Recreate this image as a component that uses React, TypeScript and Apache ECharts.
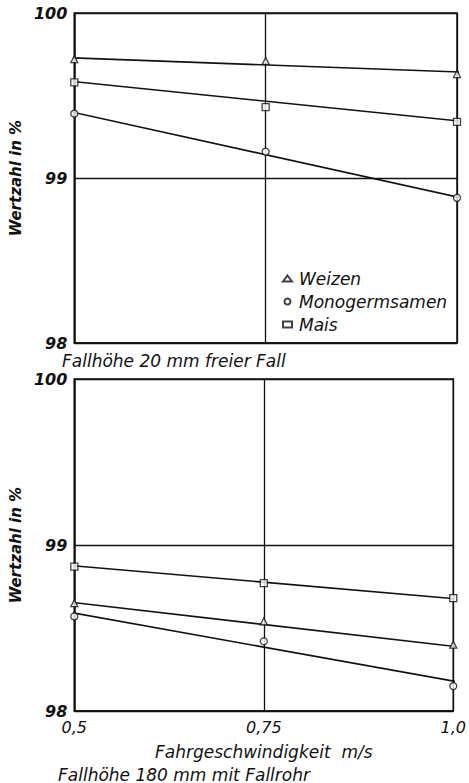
import React, { useEffect, useRef } from "react";
import * as echarts from "echarts";

// speeds (m/s)
const speeds = [0.5, 0.75, 1.0];
// Top panel: Fallhöhe 20 mm freier Fall
const topWeizen = [99.72, 99.71, 99.63];
const topMono = [99.39, 99.16, 98.88];
const topMais = [99.58, 99.43, 99.34];
// Regression lines (start x, start y, end x, end y)
const topWeizenLine = [[0.487, 99.73], [1.015, 99.64]];
const topMonoLine = [[0.487, 99.41], [1.015, 98.87]];
const topMaisLine = [[0.487, 99.59], [1.015, 99.34]];
// Bottom panel: Fallhöhe 180 mm mit Fallrohr
const botWeizen = [98.65, 98.54, 98.4];
const botMono = [98.57, 98.42, 98.15];
const botMais = [98.87, 98.77, 98.68];
const botWeizenLine = [[0.486, 98.66], [1.018, 98.38]];
const botMonoLine = [[0.487, 98.6], [1.013, 98.17]];
const botMaisLine = [[0.486, 98.88], [1.018, 98.67]];

const seriesNames = ["Weizen", "Monogermsamen", "Mais"];
const yTicks = [98, 99, 100];

const FONT = "DejaVu Sans";

function pts(vals: number[]) {
  return vals.map((v, i) => [speeds[i], v]);
}

export default function App() {
  const ref = useRef<HTMLDivElement>(null);
  useEffect(() => {
    if (!ref.current) return;
    const chart = echarts.init(ref.current, undefined, { renderer: "svg" });
    const fmtX = (v: number) => (v === 1 ? "1,0" : String(v).replace(".", ","));
    const yAxisBase = (gi: number) => ({
      type: "value" as const,
      gridIndex: gi,
      min: yTicks[0],
      max: yTicks[yTicks.length - 1],
      interval: 1,
      name: "Wertzahl in %",
      nameLocation: "middle" as const,
      nameRotate: 90,
      nameGap: 38,
      nameTextStyle: { fontFamily: FONT, fontStyle: "italic", fontWeight: "bold", fontSize: 15, color: "#111" },
      axisLine: { show: true, lineStyle: { color: "#111", width: 1.5 } },
      axisTick: { show: false },
      axisLabel: { fontFamily: FONT, fontStyle: "italic", fontWeight: "bold", fontSize: 16, color: "#111", margin: 7 },
      splitLine: { show: true, lineStyle: { color: "#111", width: 1.3 } },
    });
    const xAxisBase = (gi: number, showLabel: boolean) => ({
      type: "value" as const,
      gridIndex: gi,
      min: 0.5,
      max: 1.0,
      interval: 0.25,
      axisLine: { show: true, lineStyle: { color: "#111", width: 1.5 } },
      axisTick: { show: false },
      axisLabel: {
        show: showLabel,
        formatter: fmtX,
        fontFamily: FONT,
        fontStyle: "italic",
        fontSize: 16,
        color: "#111",
        margin: 8,
      },
      splitLine: { show: true, lineStyle: { color: "#111", width: 1.3 } },
    });
    const symbols = ["triangle", "circle", "rect"];
    const scatter = (name: string, data: number[][], gi: number, k: number) => ({
      type: "scatter" as const,
      name,
      xAxisIndex: gi,
      yAxisIndex: gi,
      data,
      symbol: symbols[k],
      symbolSize: 7,
      itemStyle: { color: "#fff", borderColor: "#111", borderWidth: 1.3 },
      z: 5,
    });
    const line = (data: number[][], gi: number) => ({
      type: "line" as const,
      xAxisIndex: gi,
      yAxisIndex: gi,
      data,
      showSymbol: false,
      symbol: "none",
      clip: false,
      lineStyle: { color: "#111", width: 1.6 },
      z: 4,
    });
    const txt = { fontFamily: FONT, fontStyle: "italic", fontSize: 17, fill: "#111" };
    chart.setOption({
      animation: false,
      backgroundColor: "#fff",
      grid: [
        { left: 62, top: 13, width: 395, height: 330, show: true, borderColor: "#111", borderWidth: 1.5 },
        { left: 59, top: 379, width: 396, height: 332, show: true, borderColor: "#111", borderWidth: 1.5 },
      ],
      xAxis: [xAxisBase(0, false), xAxisBase(1, true)],
      yAxis: [yAxisBase(0), yAxisBase(1)],
      legend: {
        data: seriesNames,
        orient: "vertical",
        left: 277,
        top: 265,
        itemWidth: 9,
        itemHeight: 6,
        itemGap: 6,
        textStyle: { fontFamily: FONT, fontStyle: "italic", fontSize: 17, color: "#111", padding: [0, 0, 0, 2], lineHeight: 17 },
      },
      series: [
        scatter(seriesNames[0], pts(topWeizen), 0, 0),
        scatter(seriesNames[1], pts(topMono), 0, 1),
        scatter(seriesNames[2], pts(topMais), 0, 2),
        line(topWeizenLine, 0),
        line(topMonoLine, 0),
        line(topMaisLine, 0),
        scatter(seriesNames[0], pts(botWeizen), 1, 0),
        scatter(seriesNames[1], pts(botMono), 1, 1),
        scatter(seriesNames[2], pts(botMais), 1, 2),
        line(botWeizenLine, 1),
        line(botMonoLine, 1),
        line(botMaisLine, 1),
      ],
      graphic: [
        { type: "text", left: 62, top: 352, style: { ...txt, text: "Fallhöhe 20 mm freier Fall" } },
        { type: "text", left: 155, top: 743, style: { ...txt, text: "Fahrgeschwindigkeit  m/s" } },
        { type: "text", left: 58, top: 766, style: { ...txt, text: "Fallhöhe 180 mm mit Fallrohr" } },
      ],
    });
    return () => chart.dispose();
  }, []);
  return <div ref={ref} style={{ position: "fixed", left: 0, top: 0, width: 469, height: 783 }} />;
}
